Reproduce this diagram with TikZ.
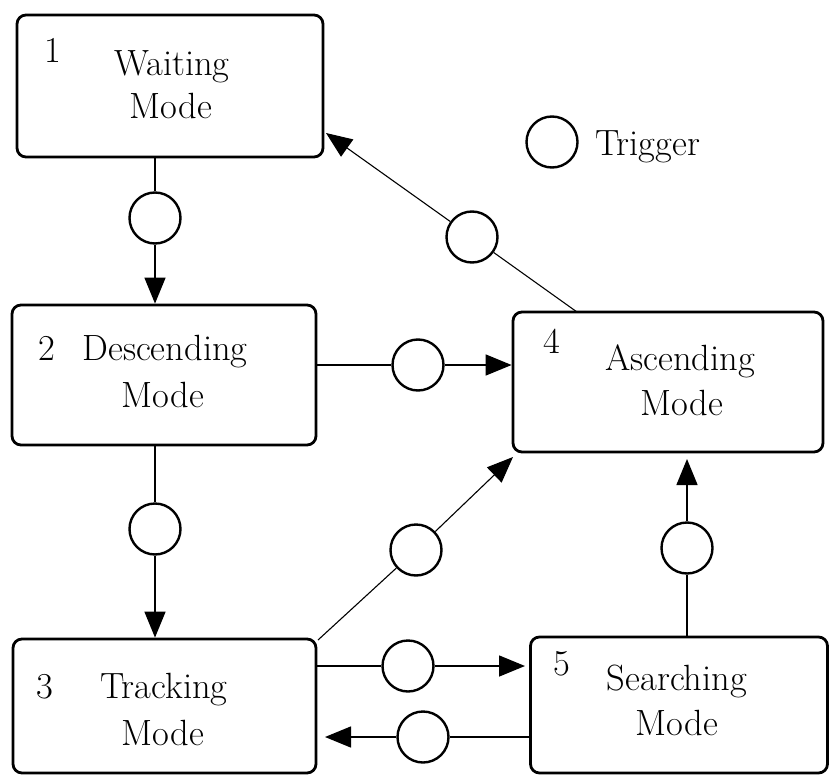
\documentclass[tikz,border=0pt]{standalone}
\usetikzlibrary{arrows.meta}
\begin{document}
\begin{tikzpicture}[x=1pt,y=-1pt,
  modebox/.style={draw, line width=2.8pt, rounded corners=9pt, inner sep=0pt, fill=white},
  trig/.style={draw, circle, line width=2.4pt, minimum size=51pt, inner sep=0pt, fill=white},
  lbl/.style={anchor=base, inner sep=0pt, font=\rmfamily\fontsize{36.5}{42}\selectfont},
  conn/.style={line width=1.5pt},
  thin conn/.style={line width=1.1pt},
  arr/.style={-{Triangle[length=26pt,width=21pt]}}
]
\useasboundingbox (0,0) rectangle (830,776);
\fill[white] (0,0) rectangle (830,776);

% boxes
\node[modebox, minimum width=306pt, minimum height=142pt] (b1) at (170,86) {};
\node[modebox, minimum width=304pt, minimum height=140pt] (b2) at (164,375) {};
\node[modebox, minimum width=303pt, minimum height=134pt] (b3) at (164.5,706) {};
\node[modebox, minimum width=310pt, minimum height=140pt] (b4) at (668,382) {};
\node[modebox, minimum width=297pt, minimum height=136pt] (b5) at (679,705) {};

% labels
\node[lbl] (n1) at (53,63) {1};
\node[lbl] (w1) at (172,75) {Waiting};
\node[lbl] (m1) at (171,118) {Mode};
\node[lbl] (n2) at (47,360) {2};
\node[lbl] (w2) at (165,360) {Descending};
\node[lbl] (m2) at (163,407) {Mode};
\node[lbl] (n3) at (45,698) {3};
\node[lbl] (w3) at (164,698) {Tracking};
\node[lbl] (m3) at (163,745) {Mode};
\node[lbl] (n4) at (552,353) {4};
\node[lbl] (w4) at (680,370) {Ascending};
\node[lbl] (m4) at (682,415) {Mode};
\node[lbl] (n5) at (562,675) {5};
\node[lbl] (w5) at (677,690) {Searching};
\node[lbl] (m5) at (677,735) {Mode};

% legend
\node[trig] (leg) at (552,142) {};
\node[lbl, anchor=base west] (legt) at (595,155) {Trigger};

% trigger circles
\node[trig] (t12) at (155,218) {};
\node[trig] (t23) at (155,529) {};
\node[trig] (t24) at (418,365) {};
\node[trig] (t34) at (416,550) {};
\node[trig] (t41) at (472,237) {};
\node[trig] (t35) at (408,666) {};
\node[trig] (t53) at (423,737) {};
\node[trig] (t54) at (687,548) {};

% free ends
\coordinate (e34) at (513,457);
\coordinate (s34) at (318,640);
\coordinate (s41) at (577,312);
\coordinate (e41) at (326,133);
\coordinate (e53) at (325,737);
\coordinate (e35) at (525,666);
\coordinate (e54) at (687,459);

% connectors
\draw[conn] (t12 |- b1.south) -- (t12);
\draw[conn, arr] (t12) -- (t12 |- b2.north);
\draw[conn] (t23 |- b2.south) -- (t23);
\draw[conn, arr] (t23) -- (t23 |- b3.north);
\draw[conn] (t24 -| b2.east) -- (t24);
\draw[conn, arr] (t24) -- (t24 -| b4.west);
\draw[thin conn] (s34) -- (t34);
\draw[thin conn, arr] (t34) -- (e34);
\draw[thin conn] (s41) -- (t41);
\draw[thin conn, arr] (t41) -- (e41);
\draw[conn] (t35 -| b3.east) -- (t35);
\draw[conn, arr] (t35) -- (e35);
\draw[conn] (t53 -| b5.west) -- (t53);
\draw[conn, arr] (t53) -- (e53);
\draw[conn] (t54 |- b5.north) -- (t54);
\draw[conn, arr] (t54) -- (e54);
\end{tikzpicture}
\end{document}
